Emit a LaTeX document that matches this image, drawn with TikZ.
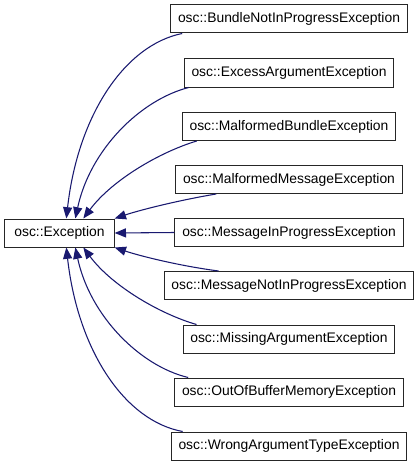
\documentclass[tikz,border=0pt]{standalone}
\usepackage{fontspec}
\setmainfont{Liberation Sans}
\usetikzlibrary{arrows.meta,calc}
\definecolor{edgeblue}{RGB}{25,25,112}
\begin{document}
\begin{tikzpicture}[x=0.75pt,y=-0.75pt,
  cls/.style={draw=black!85, fill=white, line width=0.75pt, inner xsep=5.5pt, inner ysep=0pt,
    minimum height=21pt, font=\fontsize{10.4}{12}\selectfont},
  inh/.style={draw=edgeblue, line width=0.8pt, -{Triangle[length=8.5pt,width=6.8pt]}}]
\fill[white] (0,0) rectangle (416,467);
\useasboundingbox (0,0) rectangle (416,467);
\node[cls, minimum width=82pt] (exc) at (59.5,233) {osc::Exception};
\node[cls] (c1) at (289,19) {osc::BundleNotInProgressException};
\node[cls] (c2) at (289,73) {osc::ExcessArgumentException};
\node[cls] (c3) at (289,126.5) {osc::MalformedBundleException};
\node[cls] (c4) at (289,179.5) {osc::MalformedMessageException};
\node[cls] (c5) at (289,232.5) {osc::MessageInProgressException};
\node[cls] (c6) at (289,285.5) {osc::MessageNotInProgressException};
\node[cls] (c7) at (289,339) {osc::MissingArgumentException};
\node[cls] (c8) at (289,392) {osc::OutOfBufferMemoryException};
\node[cls] (c9) at (289,446) {osc::WrongArgumentTypeException};
% upper edges
\draw[inh] ($(c1.south west)+(12,0)$) .. controls (125,45) and (78,115) .. ($(exc.north west)+(62,0)$);
\draw[inh] ($(c2.south west)+(5,0)$) .. controls (140,100) and (90,150) .. ($(exc.north west)+(71,0)$);
\draw[inh] ($(c3.south west)+(15,0)$) .. controls (160,152) and (112,180) .. ($(exc.north west)+(79,0)$);
\draw[inh] ($(c4.south west)+(41,0)$) .. controls (180,200) and (140,210) .. (exc.north east);
\draw[inh] (c5.west) -- (exc.east);
% lower edges
\draw[inh] ($(c6.north west)+(55,0)$) .. controls (180,266) and (140,256) .. (exc.south east);
\draw[inh] ($(c7.north west)+(14,0)$) .. controls (160,314) and (112,286) .. ($(exc.south west)+(79,0)$);
\draw[inh] ($(c8.north west)+(14,0)$) .. controls (140,366) and (90,316) .. ($(exc.south west)+(71,0)$);
\draw[inh] ($(c9.north west)+(12,0)$) .. controls (125,421) and (78,351) .. ($(exc.south west)+(62,0)$);
\end{tikzpicture}
\end{document}
